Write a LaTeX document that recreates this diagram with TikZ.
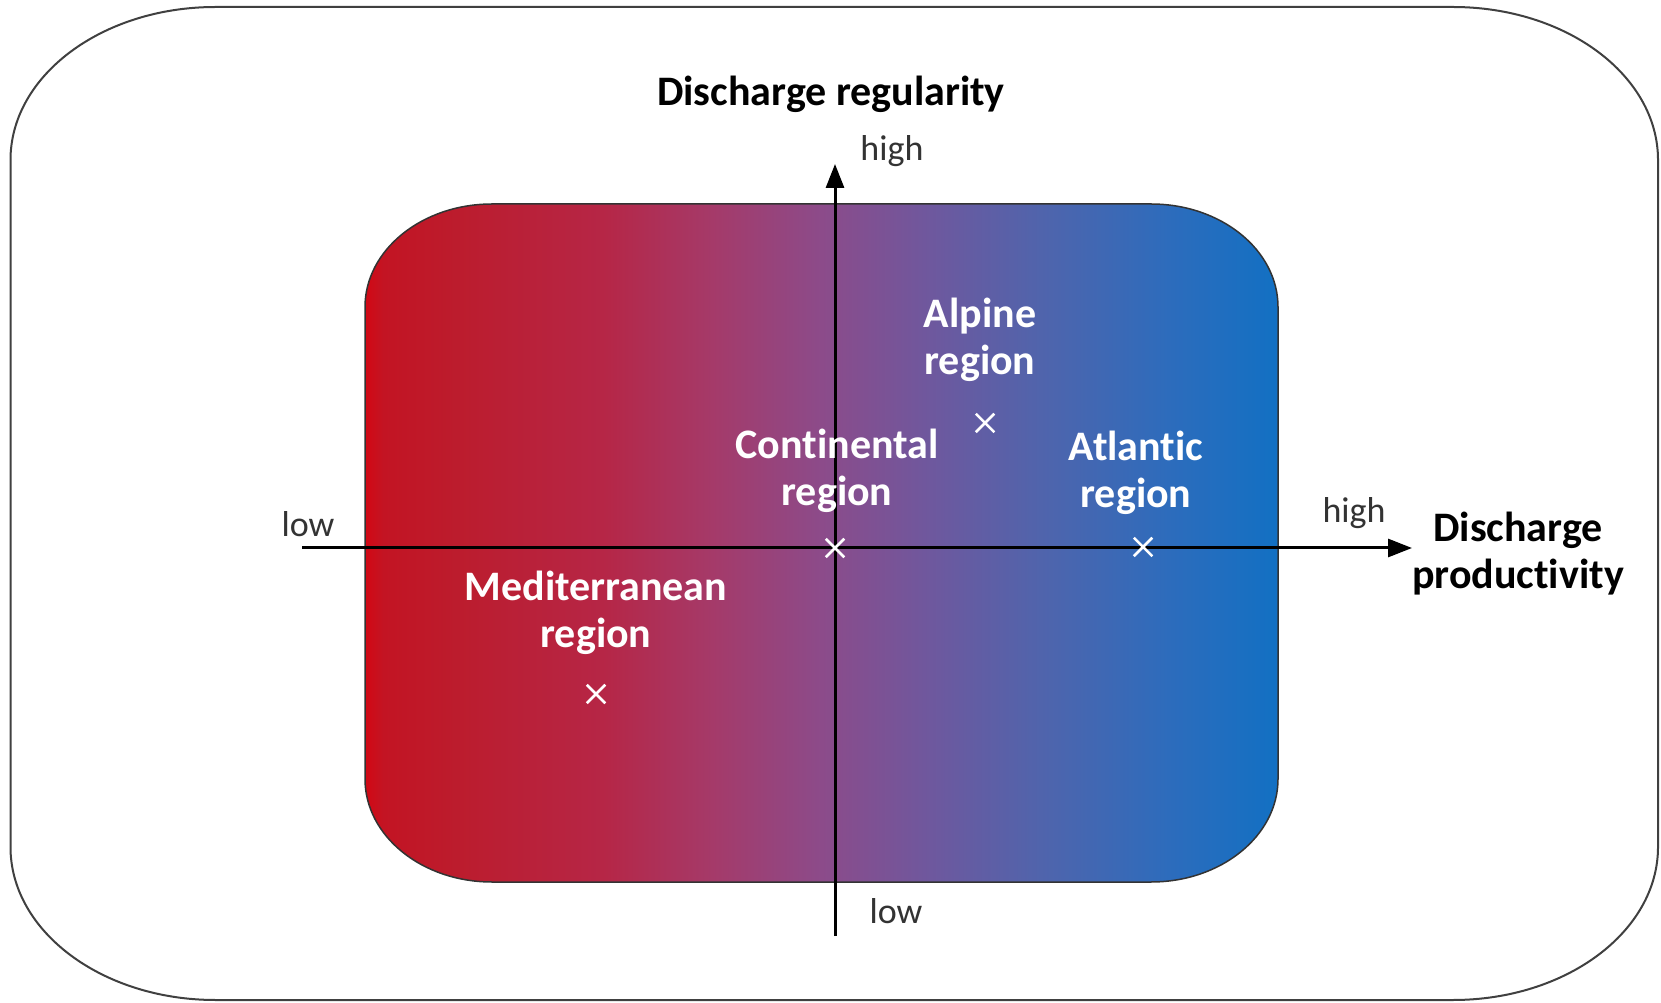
\documentclass[tikz,border=0pt]{standalone}
\usepackage{fontspec}
\setmainfont{Carlito}[Ligatures={NoCommon,NoContextual}]
\usetikzlibrary{positioning,shapes.misc,arrows.meta}
\definecolor{shA}{RGB}{210,8,20}
\definecolor{shB}{RGB}{195,20,35}
\definecolor{shC}{RGB}{188,28,45}
\definecolor{shD}{RGB}{182,38,70}
\definecolor{shE}{RGB}{165,58,105}
\definecolor{shF}{RGB}{140,75,138}
\definecolor{shG}{RGB}{110,88,158}
\definecolor{shH}{RGB}{80,100,172}
\definecolor{shI}{RGB}{45,108,188}
\definecolor{shJ}{RGB}{18,112,195}
\pgfdeclarehorizontalshading{redblue}{100bp}{color(0bp)=(shA); color(25bp)=(shA); color(26bp)=(shB); color(30bp)=(shC); color(38bp)=(shD); color(44bp)=(shE); color(50bp)=(shF); color(56bp)=(shG); color(62bp)=(shH); color(69bp)=(shI); color(75bp)=(shJ); color(100bp)=(shJ)}
\newcommand{\outerbox}{(215.5,2) -- (1453,2) arc[start angle=-90,end angle=0,x radius=205,y radius=153] -- (1658,842) arc[start angle=0,end angle=90,x radius=205,y radius=153] -- (215.5,995) arc[start angle=90,end angle=180,x radius=205,y radius=153] -- (10.5,155) arc[start angle=180,end angle=270,x radius=205,y radius=153] -- cycle}
\newcommand{\innerbox}{(492,120) -- (1151,120) arc[start angle=-90,end angle=0,x radius=127,y radius=103] -- (1278,695) arc[start angle=0,end angle=90,x radius=127,y radius=103] -- (492,798) arc[start angle=90,end angle=180,x radius=127,y radius=103] -- (365,223) arc[start angle=180,end angle=270,x radius=127,y radius=103] -- cycle}
\tikzset{
  region/.style={text=white,font=\bfseries\fontsize{42}{47}\selectfont,align=center,inner sep=0pt},
  heading/.style={text=black,font=\bfseries\fontsize{42}{47}\selectfont,align=center,inner sep=0pt},
  axlabel/.style={text=black!80,font=\fontsize{36}{42}\selectfont,inner sep=0pt},
  xmark/.style={cross out,draw=white,line width=2.5pt,minimum size=16pt,inner sep=0pt},
  axisline/.style={line width=3pt,-{Triangle[length=24pt,width=18pt]}}
}
\begin{document}
\begin{tikzpicture}[x=1pt,y=1pt]
\useasboundingbox (0,0) rectangle (1661,1002);
\draw[black!75,line width=2pt] \outerbox;
\shadedraw[shading=redblue,draw=black!80,line width=1.5pt] \innerbox;
\coordinate (xl) at (302,454);
\coordinate (xr) at (1412,454);
\coordinate (yb) at (835,66);
\coordinate (yt) at (835,838);
\draw[axisline] (xl) -- (xr);
\draw[axisline] (yb) -- (yt);
\node[heading] (title) at (831,908) {Discharge regularity};
\node[heading] (prod) at (1518,448) {Discharge\\productivity};
\node[axlabel] (yhi) at (892,851) {high};
\node[axlabel] (ylo) at (896,91) {low};
\node[axlabel] (xlo) at (308,478) {low};
\node[axlabel] (xhi) at (1354,489) {high};
\node[xmark] (alp) at (985,579) {};
\node[xmark] (con) at (835,454) {};
\node[xmark] (atl) at (1143,455) {};
\node[xmark] (med) at (596,308) {};
\node[region,above=32pt of alp,xshift=-5pt] (alplab) {Alpine\\region};
\node[region,above=26pt of con,xshift=2pt] (conlab) {Continental\\region};
\node[region,above=23pt of atl,xshift=-7pt] (atllab) {Atlantic\\region};
\node[region,above=30pt of med] (medlab) {Mediterranean\\region};
\end{tikzpicture}
\end{document}
